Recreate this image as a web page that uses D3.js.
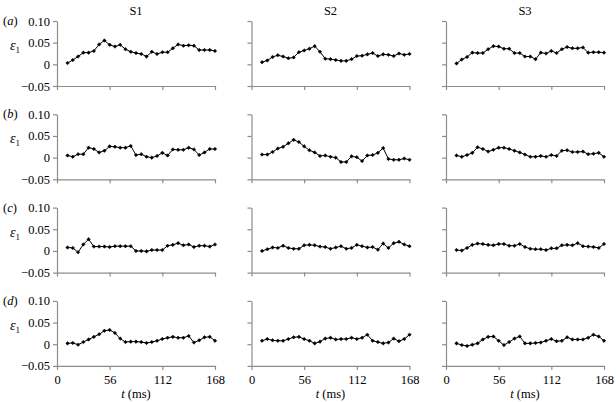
<!DOCTYPE html>
<html><head><meta charset="utf-8">
<script src="https://cdn.jsdelivr.net/npm/d3@7"></script>
<style>body{margin:0;background:#fff} svg{display:block}
svg text{font-family:"Liberation Serif","Times New Roman",Times,serif !important;}</style>
</head><body><svg id="c" width="616" height="402"></svg>
<script>
const times = [11.2,16.8,22.4,28,33.6,39.2,44.8,50.4,56,61.6,67.2,72.8,78.4,84,89.6,95.2,100.8,106.4,112,117.6,123.2,128.8,134.4,140,145.6,151.2,156.8,162.4,168];
const subjects = ["S1","S2","S3"];
const rowLabels = ["a","b","c","d"];
const xTicks = [0,56,112,168];
const yTicks = [-0.05,0,0.05,0.10];

const a_S1 = [0.003,0.010,0.018,0.027,0.027,0.031,0.046,0.055,0.045,0.041,0.045,0.035,0.029,0.026,0.024,0.018,0.029,0.024,0.028,0.028,0.037,0.046,0.043,0.044,0.043,0.033,0.033,0.033,0.031];
const a_S2 = [0.005,0.009,0.017,0.021,0.018,0.014,0.016,0.028,0.032,0.036,0.042,0.029,0.013,0.012,0.010,0.008,0.008,0.012,0.019,0.020,0.023,0.026,0.019,0.023,0.022,0.019,0.025,0.022,0.024];
const a_S3 = [0.002,0.011,0.017,0.027,0.026,0.026,0.035,0.042,0.041,0.036,0.036,0.026,0.026,0.018,0.018,0.012,0.027,0.025,0.031,0.026,0.035,0.040,0.037,0.037,0.039,0.027,0.028,0.028,0.027];
const b_S1 = [0.005,0.002,0.008,0.008,0.023,0.020,0.012,0.016,0.026,0.025,0.023,0.023,0.027,0.006,0.008,0.002,0.000,0.004,0.011,0.005,0.019,0.018,0.018,0.023,0.019,0.006,0.012,0.020,0.020];
const b_S2 = [0.007,0.007,0.013,0.021,0.025,0.033,0.041,0.036,0.026,0.017,0.012,0.004,0.005,0.002,0.000,-0.010,-0.010,0.003,0.001,-0.008,0.005,0.006,0.011,0.022,-0.003,-0.005,-0.005,-0.002,-0.005];
const b_S3 = [0.005,0.002,0.006,0.011,0.024,0.020,0.014,0.018,0.023,0.023,0.020,0.016,0.012,0.007,0.002,0.002,0.004,0.002,0.006,0.004,0.016,0.017,0.013,0.013,0.014,0.008,0.009,0.011,0.002];
const c_S1 = [0.008,0.007,-0.003,0.015,0.027,0.010,0.010,0.010,0.009,0.011,0.011,0.011,0.011,0.000,0.000,-0.001,0.002,0.002,0.002,0.012,0.014,0.018,0.013,0.015,0.009,0.012,0.012,0.010,0.015];
const c_S2 = [0.000,0.004,0.008,0.007,0.012,0.007,0.005,0.005,0.013,0.014,0.013,0.010,0.009,0.005,0.008,0.011,0.005,0.007,0.014,0.011,0.008,0.009,0.003,0.017,0.007,0.018,0.021,0.015,0.011];
const c_S3 = [0.002,0.001,0.007,0.014,0.017,0.016,0.014,0.013,0.016,0.016,0.012,0.012,0.016,0.009,0.005,0.004,0.004,0.002,0.006,0.006,0.013,0.014,0.013,0.018,0.011,0.010,0.009,0.007,0.016];
const d_S1 = [0.002,0.003,-0.001,0.005,0.011,0.017,0.023,0.031,0.033,0.026,0.013,0.005,0.006,0.006,0.005,0.003,0.005,0.008,0.012,0.015,0.017,0.015,0.015,0.019,0.004,0.009,0.016,0.017,0.008];
const d_S2 = [0.008,0.012,0.009,0.008,0.008,0.012,0.016,0.017,0.012,0.008,0.002,0.006,0.013,0.015,0.011,0.012,0.012,0.015,0.012,0.015,0.022,0.008,0.005,0.002,0.004,0.013,0.007,0.012,0.022];
const d_S3 = [0.002,-0.002,-0.004,-0.001,0.002,0.011,0.017,0.018,0.008,-0.002,0.005,0.013,0.018,0.002,0.002,0.003,0.004,0.008,0.012,0.007,0.008,0.016,0.011,0.011,0.011,0.015,0.022,0.018,0.008];

const grid = [[a_S1,a_S2,a_S3],[b_S1,b_S2,b_S3],[c_S1,c_S2,c_S3],[d_S1,d_S2,d_S3]];

const svg = d3.select("#c");
const pw = 158, ph = 65;
const x0 = 57, dx = 194.5, y0 = 21, dy = 93.3;
const axisColor = "#8c8c8c";

const x = d3.scaleLinear().domain([0,168]).range([0,pw]);
const y = d3.scaleLinear().domain([-0.05,0.10]).range([ph,0]);
const fmt = d => d === 0 ? "0" : (d < 0 ? "\u22120.05" : d.toFixed(2));

const line = d3.line().x((d,i)=>x(times[i])).y(d=>y(d));
const marker = d3.symbol().type(d3.symbolDiamond2).size(8);

subjects.forEach((s,c) => {
  svg.append("text").attr("x", x0 + c*dx + pw/2).attr("y", 15)
    .attr("text-anchor","middle").attr("font-size",12.5).text(s);
});

grid.forEach((row, r) => {
  const top = y0 + r*dy;
  const lab = svg.append("text").attr("x", 3).attr("y", top+4).attr("font-size",12.5);
  lab.append("tspan").text("(");
  lab.append("tspan").attr("font-style","italic").text(rowLabels[r]);
  lab.append("tspan").text(")");
  const eps = svg.append("text").attr("x", 10).attr("y", top+29).attr("font-size",14);
  eps.append("tspan").attr("font-style","italic").text("\u03b5");
  eps.append("tspan").attr("font-size",9).attr("dy",3).text("1");

  row.forEach((vals, c) => {
    const g = svg.append("g").attr("transform", `translate(${x0 + c*dx},${top})`);
    const ya = g.append("g").call(d3.axisLeft(y).tickValues(yTicks).tickSize(4).tickSizeOuter(0)
      .tickFormat(c === 0 ? fmt : () => ""));
    const xa = g.append("g").attr("transform", `translate(0,${ph})`)
      .call(d3.axisBottom(x).tickValues(xTicks).tickSize(4).tickSizeOuter(0)
      .tickFormat(r === 3 ? d3.format("d") : () => ""));
    [ya, xa].forEach(a => {
      a.attr("font-family", null);
      a.selectAll("path,line").attr("stroke", axisColor).attr("stroke-width",1.2);
      a.selectAll("text").attr("font-size",12.5).attr("fill","#000");
    });
    ya.selectAll("text").attr("x",-7);
    xa.selectAll("text").attr("y",9);
    g.append("path").datum(vals).attr("d", line).attr("fill","none")
      .attr("stroke","#000").attr("stroke-width",1);
    g.selectAll(".m").data(vals).enter().append("path")
      .attr("transform",(d,i)=>`translate(${x(times[i])},${y(d)})`)
      .attr("d", marker).attr("fill","#000").attr("stroke","#000").attr("stroke-width",0.5);
  });
});

subjects.forEach((s,c) => {
  const t = svg.append("text").attr("x", x0 + c*dx + pw/2).attr("y", 398)
    .attr("text-anchor","middle").attr("font-size",12.5);
  t.append("tspan").attr("font-style","italic").text("t");
  t.append("tspan").text(" (ms)");
});
</script></body></html>
